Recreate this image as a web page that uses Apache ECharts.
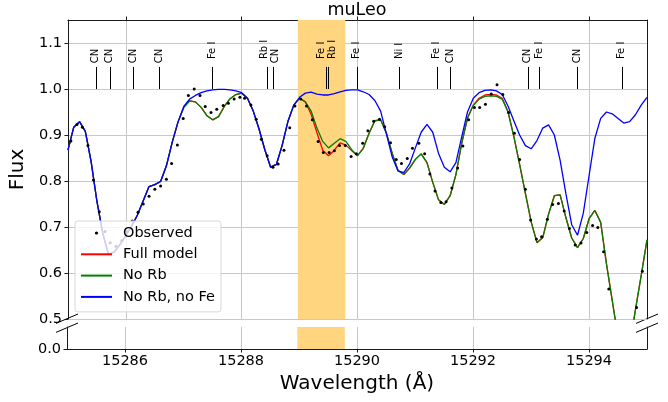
<!DOCTYPE html>
<html>
<head>
<meta charset="utf-8">
<script src="https://cdn.jsdelivr.net/npm/echarts@6/dist/echarts.min.js"></script>
<style>
  body { margin: 0; background: #fff; }
  #chart { width: 668px; height: 402px; }
</style>
</head>
<body>
<div id="chart"></div>
<script>
// model wavelength grid (Angstrom)
const modelWave = [
  15285.0, 15285.1, 15285.2, 15285.3, 15285.4, 15285.5, 15285.6, 15285.7, 15285.8, 15285.9,
  15286.0, 15286.1, 15286.2, 15286.3, 15286.4, 15286.5, 15286.6, 15286.7, 15286.8, 15286.9,
  15287.0, 15287.1, 15287.2, 15287.3, 15287.4, 15287.5, 15287.6, 15287.7, 15287.8, 15287.9,
  15288.0, 15288.1, 15288.2, 15288.3, 15288.4, 15288.5, 15288.6, 15288.7, 15288.8, 15288.9,
  15289.0, 15289.1, 15289.2, 15289.3, 15289.4, 15289.5, 15289.6, 15289.7, 15289.8, 15289.9,
  15290.0, 15290.1, 15290.2, 15290.3, 15290.4, 15290.5, 15290.6, 15290.7, 15290.8, 15290.9,
  15291.0, 15291.1, 15291.2, 15291.3, 15291.4, 15291.5, 15291.6, 15291.7, 15291.8, 15291.9,
  15292.0, 15292.1, 15292.2, 15292.3, 15292.4, 15292.5, 15292.6, 15292.7, 15292.8, 15292.9,
  15293.0, 15293.1, 15293.2, 15293.3, 15293.4, 15293.5, 15293.6, 15293.7, 15293.8, 15293.9,
  15294.0, 15294.1, 15294.2, 15294.3, 15294.4, 15294.5, 15294.6, 15294.7, 15294.8, 15294.9,
  15295.0
];

// No Rb, no Fe
const noRbFe = [
  0.867, 0.917, 0.929, 0.908, 0.842, 0.756, 0.687, 0.640, 0.646, 0.662,
  0.682, 0.702, 0.726, 0.757, 0.788, 0.792, 0.799, 0.833, 0.884, 0.928,
  0.962, 0.978, 0.986, 0.992, 0.996, 0.998, 0.999, 0.999, 0.998, 0.996,
  0.992, 0.980, 0.952, 0.913, 0.868, 0.830, 0.836, 0.878, 0.930, 0.965,
  0.982, 0.991, 0.993, 0.989, 0.987, 0.987, 0.990, 0.994, 0.997, 0.998,
  0.998, 0.994, 0.988, 0.975, 0.952, 0.902, 0.852, 0.822, 0.818, 0.837,
  0.872, 0.906, 0.923, 0.906, 0.860, 0.830, 0.820, 0.840, 0.896, 0.950,
  0.980, 0.992, 0.997, 0.998, 0.996, 0.988, 0.963, 0.931, 0.900, 0.877,
  0.870, 0.888, 0.915, 0.922, 0.900, 0.845, 0.772, 0.705, 0.682, 0.730,
  0.812, 0.893, 0.936, 0.950, 0.946, 0.936, 0.926, 0.929, 0.944, 0.965,
  0.982
];

// No Rb
const noRb = [
  0.867, 0.917, 0.929, 0.908, 0.842, 0.756, 0.687, 0.640, 0.646, 0.662,
  0.682, 0.702, 0.726, 0.757, 0.788, 0.792, 0.799, 0.833, 0.884, 0.928,
  0.960, 0.974, 0.972, 0.960, 0.942, 0.933, 0.940, 0.962, 0.979, 0.988,
  0.991, 0.980, 0.952, 0.913, 0.868, 0.830, 0.836, 0.878, 0.930, 0.965,
  0.980, 0.972, 0.952, 0.915, 0.886, 0.872, 0.882, 0.892, 0.886, 0.868,
  0.855, 0.871, 0.904, 0.931, 0.933, 0.904, 0.860, 0.823, 0.814, 0.828,
  0.847, 0.859, 0.840, 0.797, 0.759, 0.749, 0.768, 0.814, 0.882, 0.937,
  0.964, 0.978, 0.984, 0.985, 0.984, 0.978, 0.950, 0.897, 0.836, 0.773,
  0.711, 0.666, 0.677, 0.728, 0.768, 0.770, 0.720, 0.676, 0.655, 0.675,
  0.718, 0.736, 0.710, 0.620, 0.540, 0.460, 0.420, 0.440, 0.520, 0.595,
  0.672
];

// Full model
const fullModel = [
  0.867, 0.917, 0.929, 0.908, 0.842, 0.756, 0.687, 0.640, 0.646, 0.662,
  0.682, 0.702, 0.726, 0.757, 0.788, 0.792, 0.799, 0.833, 0.884, 0.928,
  0.960, 0.974, 0.972, 0.960, 0.942, 0.933, 0.940, 0.962, 0.979, 0.988,
  0.991, 0.980, 0.952, 0.913, 0.868, 0.830, 0.836, 0.878, 0.930, 0.965,
  0.980, 0.972, 0.945, 0.905, 0.867, 0.855, 0.867, 0.883, 0.878, 0.866,
  0.855, 0.871, 0.904, 0.931, 0.933, 0.904, 0.860, 0.823, 0.814, 0.828,
  0.847, 0.859, 0.840, 0.797, 0.759, 0.749, 0.768, 0.814, 0.882, 0.937,
  0.965, 0.980, 0.987, 0.988, 0.987, 0.980, 0.951, 0.897, 0.836, 0.773,
  0.711, 0.666, 0.677, 0.728, 0.768, 0.770, 0.720, 0.676, 0.655, 0.675,
  0.718, 0.736, 0.710, 0.620, 0.540, 0.460, 0.420, 0.440, 0.520, 0.595,
  0.672
];

// observed spectrum
const obsWave = [
  15285.05, 15285.155, 15285.25, 15285.345, 15285.44, 15285.54, 15285.64, 15285.73, 15285.83, 15285.93,
  15286.02, 15286.11, 15286.21, 15286.30, 15286.40, 15286.50, 15286.60, 15286.70, 15286.79, 15286.89,
  15286.99, 15287.08, 15287.18, 15287.28, 15287.37, 15287.47, 15287.57, 15287.68, 15287.77, 15287.87,
  15287.97, 15288.05, 15288.16, 15288.25, 15288.34, 15288.44, 15288.54, 15288.63, 15288.73, 15288.83,
  15288.92, 15289.02, 15289.12, 15289.22, 15289.32, 15289.41, 15289.51, 15289.60, 15289.69, 15289.79,
  15289.89, 15289.98, 15290.09, 15290.18, 15290.28, 15290.38, 15290.47, 15290.57, 15290.67, 15290.76,
  15290.86, 15290.95, 15291.06, 15291.16, 15291.25, 15291.34, 15291.44, 15291.53, 15291.63, 15291.73,
  15291.82, 15291.92, 15292.02, 15292.11, 15292.21, 15292.31, 15292.41, 15292.51, 15292.61, 15292.71,
  15292.80, 15292.90, 15292.99, 15293.09, 15293.18, 15293.28, 15293.37, 15293.47, 15293.57, 15293.66,
  15293.76, 15293.86, 15293.96, 15294.06, 15294.15, 15294.25, 15294.34, 15294.44, 15294.53, 15294.63,
  15294.72, 15294.82, 15294.92
];
const obsFlux = [
  0.887, 0.923, 0.917, 0.877, 0.802, 0.733, 0.690, 0.666, 0.658, 0.670,
  0.690, 0.713, 0.732, 0.750, 0.767, 0.782, 0.789, 0.804, 0.838, 0.878,
  0.936, 0.986, 1.000, 0.986, 0.962, 0.949, 0.956, 0.964, 0.969, 0.978,
  0.982, 0.980, 0.965, 0.934, 0.891, 0.855, 0.830, 0.837, 0.867, 0.916,
  0.963, 0.978, 0.963, 0.933, 0.886, 0.862, 0.862, 0.866, 0.877, 0.877,
  0.853, 0.859, 0.882, 0.909, 0.930, 0.934, 0.918, 0.883, 0.847, 0.838,
  0.849, 0.871, 0.882, 0.859, 0.815, 0.778, 0.753, 0.755, 0.785, 0.828,
  0.876, 0.933, 0.960, 0.960, 0.967, 0.989, 1.009, 0.988, 0.949, 0.904,
  0.847, 0.782, 0.715, 0.674, 0.679, 0.717, 0.749, 0.751, 0.735, 0.697,
  0.661, 0.665, 0.688, 0.703, 0.699, 0.646, 0.565, 0.480, 0.430, 0.420,
  0.460, 0.525, 0.604
];

// identified lines
const lineWave = [
  15285.48, 15285.72, 15286.13, 15286.58, 15287.49, 15288.43, 15288.54, 15289.45, 15289.49,
  15289.99, 15290.72, 15291.37, 15291.60, 15292.94, 15293.14, 15293.79, 15294.56
];
const lineNames = [
  'CN', 'CN', 'CN', 'CN', 'Fe I', 'Rb I', 'CN', 'Fe I', 'Rb I',
  'Fe I', 'Ni I', 'Fe I', 'CN', 'CN', 'Fe I', 'CN', 'Fe I'
];

const rbWindow = [15288.97, 15289.79];
const xTicks = [15286, 15288, 15290, 15292, 15294];
const yTicks = [0.5, 0.6, 0.7, 0.8, 0.9, 1.0, 1.1];

const FONT = 'DejaVu Sans';
const GRID = '#c8c8c8';
const SPINE = '#1a1a1a';

function zip (a, b) {
  return a.map((v, i) => [v, b[i]]);
}

// spread labels of lines that sit too close together
const labelWave = lineWave.slice();
for (let i = 0; i < lineWave.length - 1; i++) {
  if (lineWave[i + 1] - lineWave[i] < 0.19) {
    const mid = (lineWave[i] + lineWave[i + 1]) / 2;
    labelWave[i] = mid - 0.095;
    labelWave[i + 1] = mid + 0.095;
  }
}
const lineData = lineWave.map((w, i) => [w, labelWave[i], i]);

const band = {
  silent: true,
  itemStyle: { color: '#ffd580' },
  data: [[{ xAxis: rbWindow[0] }, { xAxis: rbWindow[1] }]]
};

const chart = echarts.init(document.getElementById('chart'));

chart.setOption({
  animation: false,
  textStyle: { fontFamily: FONT },
  title: {
    text: 'muLeo',
    left: 357,
    top: 1,
    padding: 0,
    textAlign: 'center',
    textStyle: { fontFamily: FONT, fontSize: 17.5, fontWeight: 'normal', color: '#000' }
  },
  legend: {
    orient: 'vertical',
    left: 75,
    top: 221,
    padding: [4, 6, 7, 5],
    itemWidth: 31,
    itemHeight: 4,
    itemGap: 5.3,
    backgroundColor: 'rgba(255,255,255,0.8)',
    borderColor: '#d6d6d6',
    borderWidth: 1,
    borderRadius: 3,
    textStyle: { fontFamily: FONT, fontSize: 14.5, color: '#000', lineHeight: 16, padding: [0, 0, 0, 6] },
    data: [
      { name: 'Observed' },
      { name: 'Full model', itemStyle: { opacity: 0 } },
      { name: 'No Rb', itemStyle: { opacity: 0 } },
      { name: 'No Rb, no Fe', itemStyle: { opacity: 0 } }
    ]
  },
  grid: [
    { left: 67, right: 21, top: 20, height: 299 },
    { left: 67, right: 21, top: 327, height: 22 }
  ],
  xAxis: [
    {
      type: 'value',
      gridIndex: 0,
      position: 'top',
      min: 15285,
      max: 15295,
      splitNumber: 5,
      axisLine: { show: true, lineStyle: { color: SPINE, width: 1 } },
      axisTick: { show: true, inside: false, length: 3.5, customValues: xTicks, lineStyle: { color: SPINE } },
      axisLabel: { show: false },
      splitLine: { show: true, lineStyle: { color: GRID, width: 1 } }
    },
    {
      type: 'value',
      gridIndex: 1,
      position: 'bottom',
      min: 15285,
      max: 15295,
      splitNumber: 5,
      name: 'Wavelength (Å)',
      nameLocation: 'middle',
      nameGap: 25,
      nameTextStyle: { fontFamily: FONT, fontSize: 20, color: '#000' },
      axisLine: { show: true, onZero: false, lineStyle: { color: SPINE, width: 1 } },
      axisTick: { show: true, inside: false, length: 3.5, customValues: xTicks, lineStyle: { color: SPINE } },
      axisLabel: {
        customValues: xTicks,
        margin: 5,
        fontFamily: FONT,
        fontSize: 14.5,
        color: '#000',
        formatter: v => String(v)
      },
      splitLine: { show: true, lineStyle: { color: GRID, width: 1 } }
    }
  ],
  yAxis: [
    {
      type: 'value',
      gridIndex: 0,
      min: 0.5,
      max: 1.15,
      interval: 0.1,
      name: 'Flux',
      nameLocation: 'middle',
      nameGap: 26,
      nameTextStyle: { fontFamily: FONT, fontSize: 20, color: '#000' },
      axisLine: { show: true, lineStyle: { color: SPINE, width: 1 } },
      axisTick: { show: true, inside: false, length: 3.5, customValues: yTicks, lineStyle: { color: SPINE } },
      axisLabel: {
        customValues: yTicks,
        margin: 6,
        fontFamily: FONT,
        fontSize: 14.5,
        color: '#000',
        formatter: v => v.toFixed(1)
      },
      splitLine: { show: true, lineStyle: { color: GRID, width: 1 } }
    },
    {
      type: 'value',
      gridIndex: 0,
      position: 'right',
      min: 0.5,
      max: 1.15,
      axisLine: { show: true, lineStyle: { color: SPINE, width: 1 } },
      axisTick: { show: false },
      axisLabel: { show: false },
      splitLine: { show: false }
    },
    {
      type: 'value',
      gridIndex: 1,
      min: 0,
      max: 0.05,
      axisLine: { show: true, lineStyle: { color: SPINE, width: 1 } },
      axisTick: { show: true, inside: false, length: 3.5, customValues: [0], lineStyle: { color: SPINE } },
      axisLabel: {
        customValues: [0],
        margin: 6,
        fontFamily: FONT,
        fontSize: 14.5,
        color: '#000',
        formatter: v => v.toFixed(1)
      },
      splitLine: { show: false }
    },
    {
      type: 'value',
      gridIndex: 1,
      position: 'right',
      min: 0,
      max: 0.05,
      axisLine: { show: true, lineStyle: { color: SPINE, width: 1 } },
      axisTick: { show: false },
      axisLabel: { show: false },
      splitLine: { show: false }
    }
  ],
  series: [
    {
      name: 'Observed',
      type: 'line',
      xAxisIndex: 0,
      yAxisIndex: 0,
      data: zip(obsWave, obsFlux),
      symbol: 'circle',
      symbolSize: 3,
      showSymbol: true,
      showAllSymbol: true,
      lineStyle: { width: 0, opacity: 0 },
      itemStyle: { color: '#000' },
      markArea: band
    },
    {
      name: 'Full model',
      type: 'line',
      xAxisIndex: 0,
      yAxisIndex: 0,
      data: zip(modelWave, fullModel),
      symbol: 'none',
      lineStyle: { width: 1.3, color: '#ff0000' },
      itemStyle: { color: '#ff0000' }
    },
    {
      name: 'No Rb',
      type: 'line',
      xAxisIndex: 0,
      yAxisIndex: 0,
      data: zip(modelWave, noRb),
      symbol: 'none',
      lineStyle: { width: 1.3, color: '#008000' },
      itemStyle: { color: '#008000' }
    },
    {
      name: 'No Rb, no Fe',
      type: 'line',
      xAxisIndex: 0,
      yAxisIndex: 0,
      data: zip(modelWave, noRbFe),
      symbol: 'none',
      lineStyle: { width: 1.3, color: '#0000ff' },
      itemStyle: { color: '#0000ff' }
    },
    {
      name: 'lines',
      type: 'custom',
      xAxisIndex: 0,
      yAxisIndex: 0,
      silent: true,
      clip: false,
      data: lineData,
      renderItem: function (params, api) {
        const name = lineNames[api.value(2)];
        const p0 = api.coord([api.value(0), 1.0]);
        const p1 = api.coord([api.value(0), 1.048]);
        const pt = api.coord([api.value(1), name === 'CN' ? 1.056 : 1.065]);
        const x = Math.round(p0[0]) + 0.5;
        return {
          type: 'group',
          children: [
            {
              type: 'line',
              shape: { x1: x, y1: p0[1], x2: x, y2: p1[1] },
              style: { stroke: '#000', lineWidth: 1 }
            },
            {
              type: 'text',
              x: pt[0],
              y: pt[1],
              rotation: Math.PI / 2,
              style: {
                text: name,
                fontFamily: FONT,
                fontSize: 10,
                fill: '#000',
                align: 'left',
                verticalAlign: 'middle'
              }
            }
          ]
        };
      }
    },
    {
      name: 'band-lower',
      type: 'line',
      xAxisIndex: 1,
      yAxisIndex: 2,
      data: [],
      markArea: band
    }
  ],
  graphic: [
    // broken-axis marks
    { type: 'line', silent: true, shape: { x1: 56, y1: 323.4, x2: 78, y2: 314 }, style: { stroke: '#000', lineWidth: 1 } },
    { type: 'line', silent: true, shape: { x1: 56, y1: 332.4, x2: 78, y2: 323 }, style: { stroke: '#000', lineWidth: 1 } },
    { type: 'line', silent: true, shape: { x1: 636, y1: 323.4, x2: 658, y2: 314 }, style: { stroke: '#000', lineWidth: 1 } },
    { type: 'line', silent: true, shape: { x1: 636, y1: 332.4, x2: 658, y2: 323 }, style: { stroke: '#000', lineWidth: 1 } }
  ]
});
</script>
</body>
</html>
